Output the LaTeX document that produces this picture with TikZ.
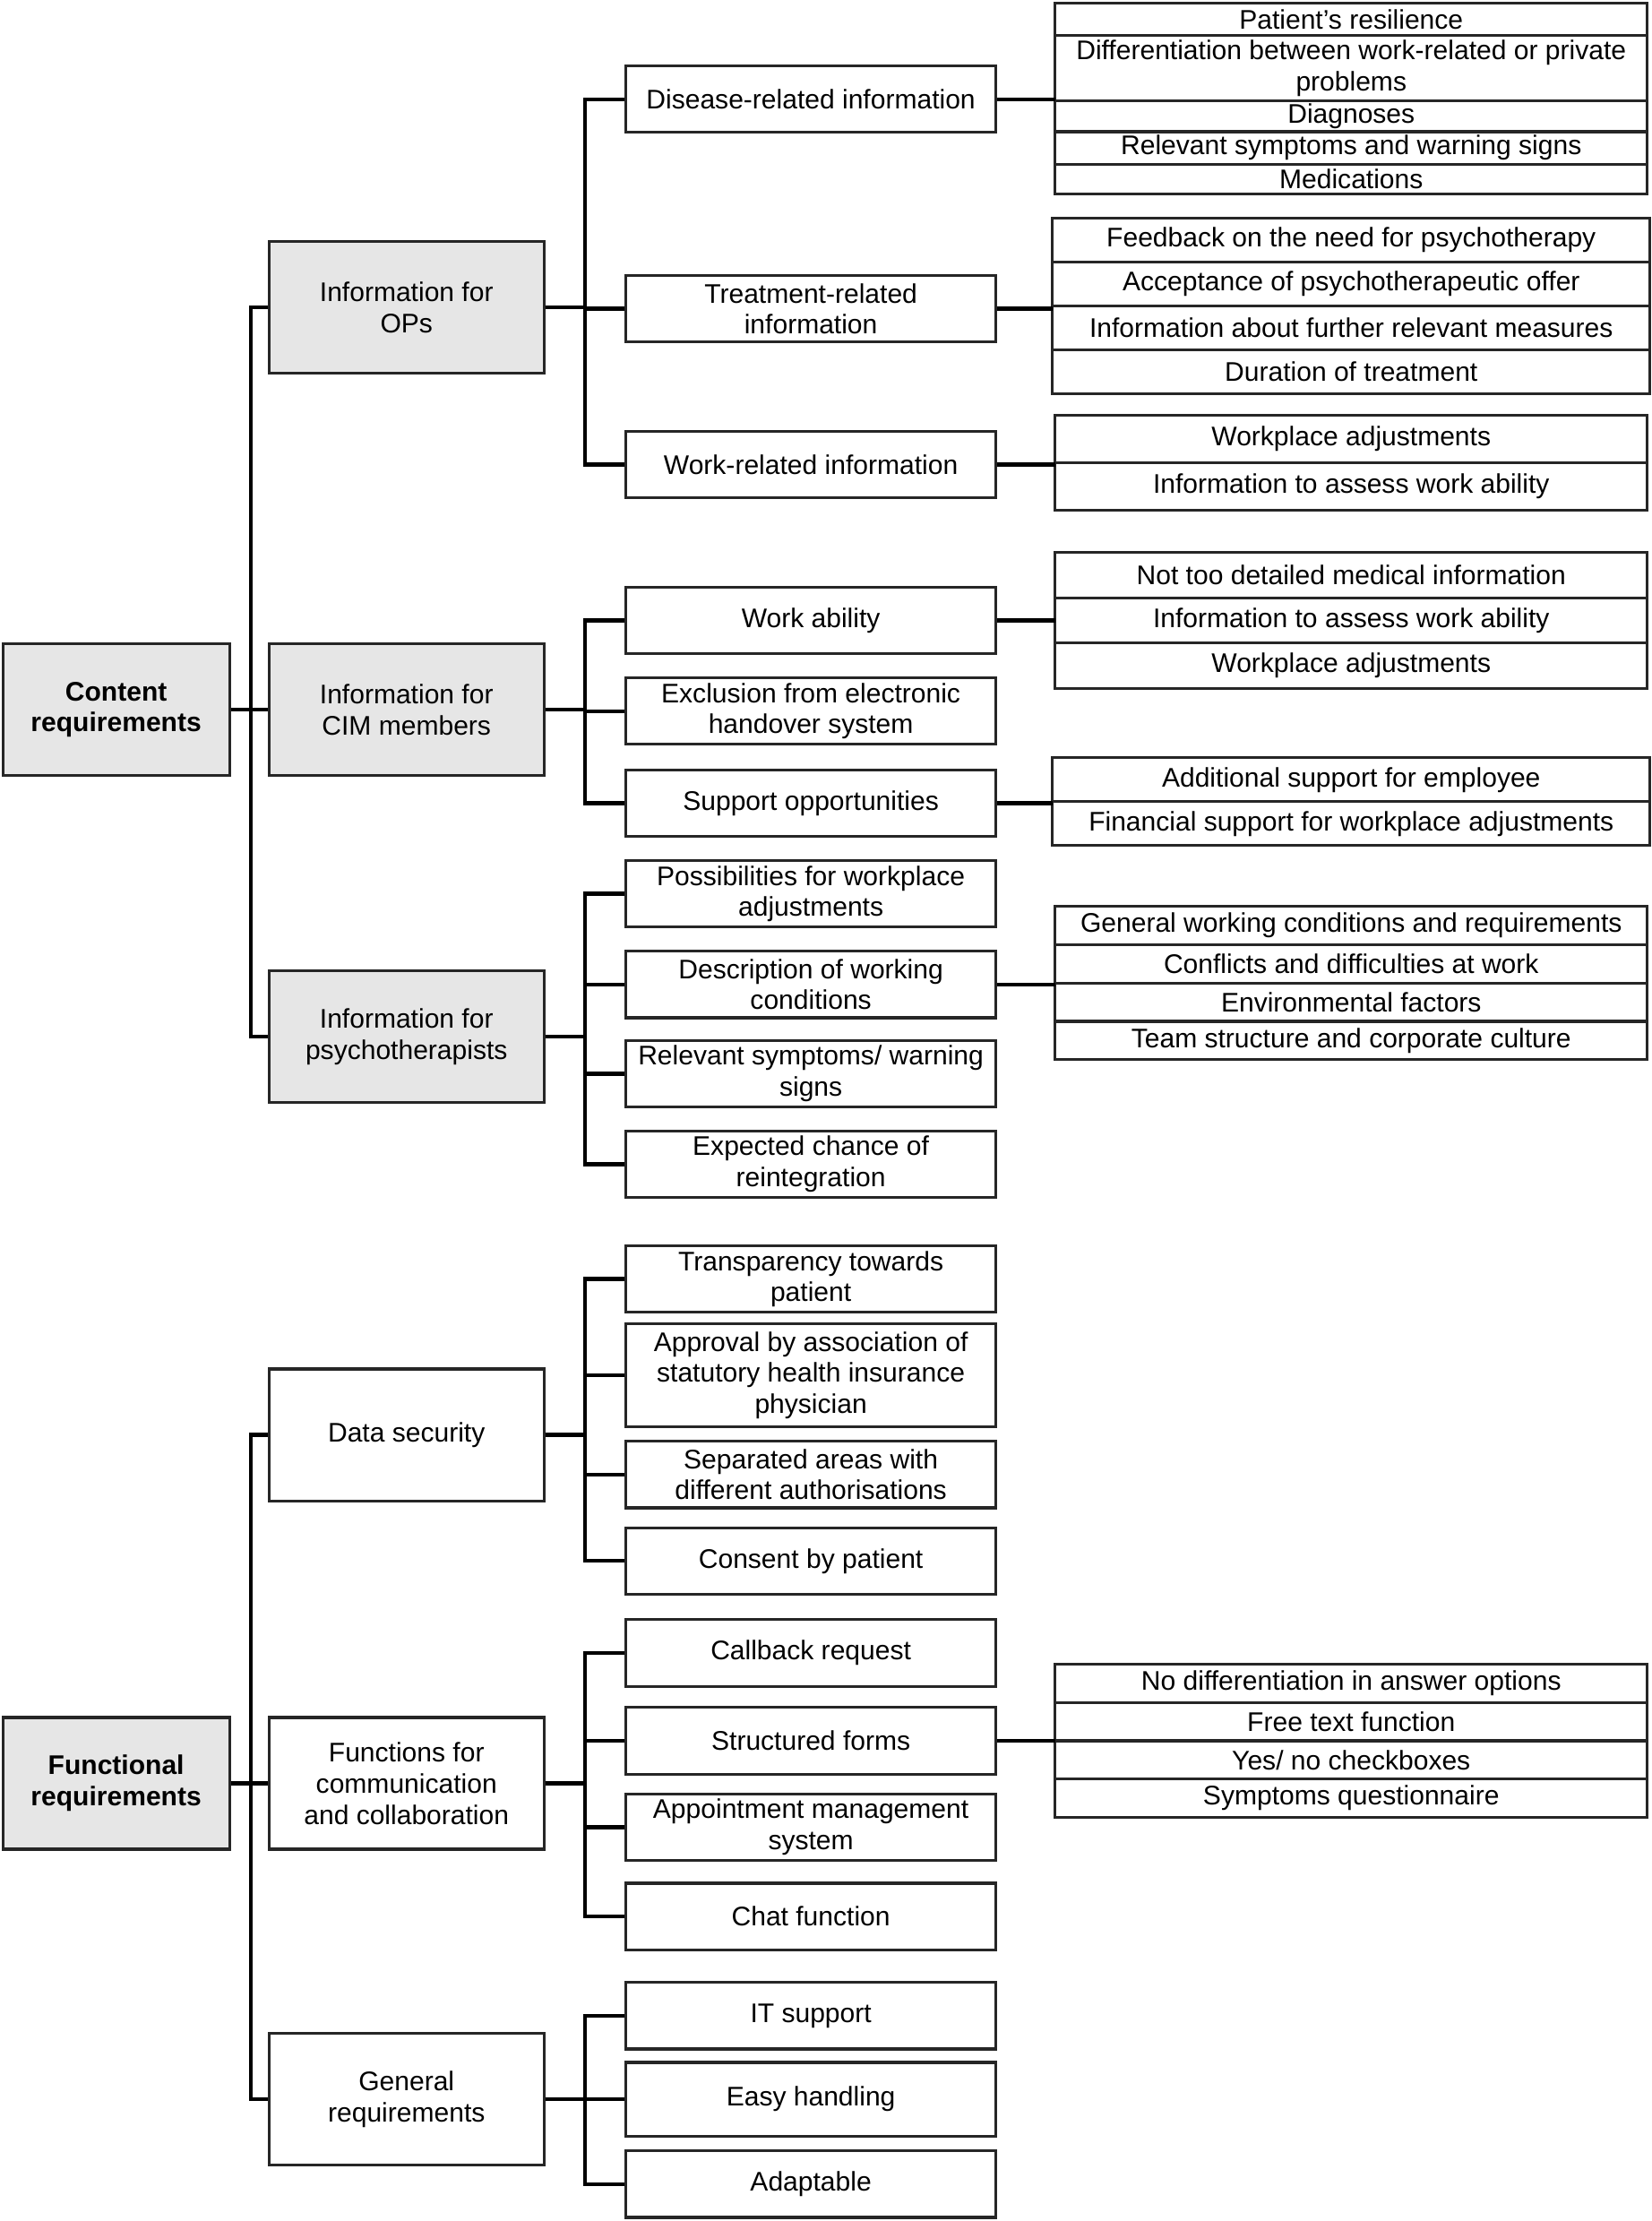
\documentclass[tikz,border=0pt]{standalone}
\usepackage{fontspec}
\setmainfont{Liberation Sans}
\definecolor{boxgray}{HTML}{E6E6E6}
\definecolor{edge}{HTML}{262626}
\usetikzlibrary{positioning}

\begin{document}
\begin{tikzpicture}[
  x=0.4pt, y=-0.4pt,
  node distance=0pt,
  font=\fontsize{7.6}{8.8}\selectfont,
  lvlA/.style ={draw=edge, line width=0.8pt, fill=boxgray, align=center,
                minimum width=64pt, minimum height=37.2pt, inner sep=2pt,
                font=\fontsize{7.6}{8.8}\selectfont\bfseries},
  lvlB/.style ={draw=edge, line width=0.8pt, align=center,
                minimum width=77.6pt, minimum height=37.2pt, inner sep=2pt},
  lvlBg/.style={lvlB, fill=boxgray},
  lvlC/.style ={draw=edge, line width=0.8pt, align=center,
                minimum width=104.4pt, minimum height=18.8pt, inner sep=1pt},
  item/.style ={draw=edge, line width=0.8pt, align=center, outer sep=0pt,
                minimum width=167.2pt, inner xsep=1pt, inner ysep=0pt},
  itemw/.style={item, minimum width=168.8pt},
  link/.style ={draw=black, line width=1.1pt},
]
  \useasboundingbox (0,0) rectangle (1166,1568);

  % ---- top level ----
  \node[lvlA] (cr) at (82,501)  {Content\\requirements};
  \node[lvlA] (fr) at (82,1259) {Functional\\requirements};

  % ---- second level ----
  \node[lvlBg] (ops) at (287,217) {Information for\\OPs};
  \node[lvlBg] (cim) at (287,501) {Information for\\CIM members};
  \node[lvlBg] (psy) at (287,732) {Information for\\psychotherapists};
  \node[lvlB]  (sec) at (287,1013) {Data security};
  \node[lvlB]  (com) at (287,1259) {Functions for\\communication\\and collaboration};
  \node[lvlB]  (gen) at (287,1482) {General\\requirements};

  % ---- third level: OPs ----
  \node[lvlC] (dis) at (572.5,70)  {Disease-related information};
  \node[lvlC] (trt) at (572.5,218) {Treatment-related\\information};
  \node[lvlC] (wrk) at (572.5,328) {Work-related information};

  % ---- third level: CIM members ----
  \node[lvlC] (abl) at (572.5,438) {Work ability};
  \node[lvlC] (exc) at (572.5,502) {Exclusion from electronic\\handover system};
  \node[lvlC] (sup) at (572.5,567) {Support opportunities};

  % ---- third level: psychotherapists ----
  \node[lvlC] (pos) at (572.5,631) {Possibilities for workplace\\adjustments};
  \node[lvlC] (dsc) at (572.5,695) {Description of working\\conditions};
  \node[lvlC] (sym) at (572.5,758) {Relevant symptoms/ warning\\signs};
  \node[lvlC] (chn) at (572.5,822) {Expected chance of\\reintegration};

  % ---- third level: data security ----
  \node[lvlC] (trn) at (572.5,903)  {Transparency towards\\patient};
  \node[lvlC, minimum height=29.2pt] (apr) at (572.5,971)
        {Approval by association of\\statutory health insurance\\physician};
  \node[lvlC] (sep) at (572.5,1041) {Separated areas with\\different authorisations};
  \node[lvlC] (cns) at (572.5,1102) {Consent by patient};

  % ---- third level: communication ----
  \node[lvlC] (cal) at (572.5,1167) {Callback request};
  \node[lvlC] (frm) at (572.5,1229) {Structured forms};
  \node[lvlC] (apm) at (572.5,1290) {Appointment management\\system};
  \node[lvlC] (cht) at (572.5,1353) {Chat function};

  % ---- third level: general ----
  \node[lvlC] (its) at (572.5,1423) {IT support};
  \node[lvlC, minimum height=20.8pt] (esy) at (572.5,1482) {Easy handling};
  \node[lvlC] (adp) at (572.5,1542) {Adaptable};

  % ---- detail lists ----
  \node[item, minimum height=9.2pt, anchor=north] (d1) at (954,2) {Patient’s resilience};
  \node[item, minimum height=18.4pt, below=of d1] (d2) {Differentiation between work-related or private\\problems};
  \node[item, minimum height=8.8pt, below=of d2] (d3) {Diagnoses};
  \node[item, minimum height=9.2pt, below=of d3] (d4) {Relevant symptoms and warning signs};
  \node[item, minimum height=8.4pt, below=of d4] (d5) {Medications};

  \node[itemw, minimum height=12.4pt, anchor=north] (t1) at (954,154) {Feedback on the need for psychotherapy};
  \node[itemw, minimum height=12.4pt, below=of t1] (t2) {Acceptance of psychotherapeutic offer};
  \node[itemw, minimum height=12.4pt, below=of t2] (t3) {Information about further relevant measures};
  \node[itemw, minimum height=12.4pt, below=of t3] (t4) {Duration of treatment};

  \node[item, minimum height=13.4pt, anchor=north] (w1) at (954,293) {Workplace adjustments};
  \node[item, minimum height=13.4pt, below=of w1] (w2) {Information to assess work ability};

  \node[item, minimum height=12.8pt, anchor=north] (a1) at (954,390) {Not too detailed medical information};
  \node[item, minimum height=12.8pt, below=of a1] (a2) {Information to assess work ability};
  \node[item, minimum height=12.8pt, below=of a2] (a3) {Workplace adjustments};

  \node[itemw, minimum height=12.4pt, anchor=north] (s1) at (954,535) {Additional support for employee};
  \node[itemw, minimum height=12.4pt, below=of s1] (s2) {Financial support for workplace adjustments};

  \node[item, minimum height=10.8pt, anchor=north] (c1) at (954,640) {General working conditions and requirements};
  \node[item, minimum height=10.8pt, below=of c1] (c2) {Conflicts and difficulties at work};
  \node[item, minimum height=10.8pt, below=of c2] (c3) {Environmental factors};
  \node[item, minimum height=10.8pt, below=of c3] (c4) {Team structure and corporate culture};

  \node[item, minimum height=10.8pt, anchor=north] (f1) at (954,1175) {No differentiation in answer options};
  \node[item, minimum height=10.8pt, below=of f1] (f2) {Free text function};
  \node[item, minimum height=10.8pt, below=of f2] (f3) {Yes/ no checkboxes};
  \node[item, minimum height=10.8pt, below=of f3] (f4) {Symptoms questionnaire};

  % ---- connectors: top level ----
  \foreach \s in {ops,cim,psy} \draw[link] (cr.east) -- ++(14,0) |- (\s.west);
  \foreach \s in {sec,com,gen} \draw[link] (fr.east) -- ++(14,0) |- (\s.west);

  % ---- connectors: second level ----
  \foreach \s in {dis,trt,wrk} \draw[link] (ops.east) -- ++(28,0) |- (\s.west);
  \foreach \s in {abl,exc,sup} \draw[link] (cim.east) -- ++(28,0) |- (\s.west);
  \foreach \s in {pos,dsc,sym,chn} \draw[link] (psy.east) -- ++(28,0) |- (\s.west);
  \foreach \s in {trn,apr,sep,cns} \draw[link] (sec.east) -- ++(28,0) |- (\s.west);
  \foreach \s in {cal,frm,apm,cht} \draw[link] (com.east) -- ++(28,0) |- (\s.west);
  \foreach \s in {its,esy,adp} \draw[link] (gen.east) -- ++(28,0) |- (\s.west);

  % ---- connectors: to the detail lists ----
  \draw[link] (dis.east) -- (dis.east -| d1.west);
  \draw[link] (trt.east) -- (trt.east -| t1.west);
  \draw[link] (wrk.east) -- (wrk.east -| w1.west);
  \draw[link] (abl.east) -- (abl.east -| a1.west);
  \draw[link] (sup.east) -- (sup.east -| s1.west);
  \draw[link] (dsc.east) -- (dsc.east -| c1.west);
  \draw[link] (frm.east) -- (frm.east -| f1.west);
\end{tikzpicture}
\end{document}
